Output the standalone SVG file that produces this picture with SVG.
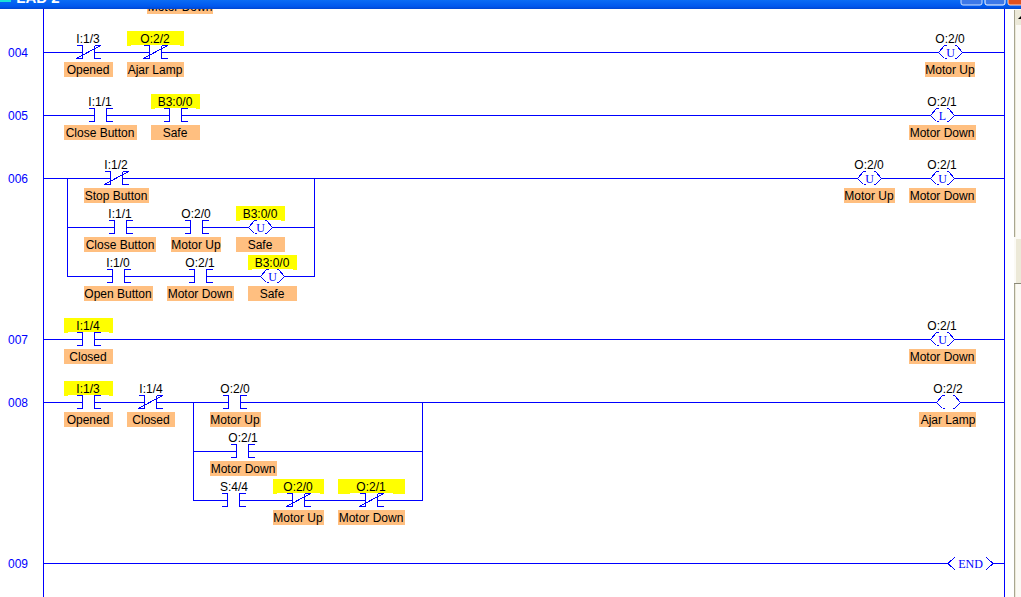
<svg xmlns="http://www.w3.org/2000/svg" width="1021" height="597" viewBox="0 0 1021 597">
<style>
text{font-family:"Liberation Sans",Arial,sans-serif;font-size:12px;fill:#000;text-anchor:middle}
.n{fill:#0000ff;text-anchor:start}
.c{font-family:"Liberation Serif","Times New Roman",serif;font-size:12px;fill:#0000ff}
.o{fill:#ffbf80}
.y{fill:#ffff00}
.w{fill:none;stroke:#0000ff;stroke-width:1;shape-rendering:crispEdges}
.g{fill:#fff}
</style>
<defs>
<linearGradient id="tb" x1="0" y1="0" x2="0" y2="1"><stop offset="0" stop-color="#0a6cf5"/><stop offset=".7" stop-color="#0058ee"/><stop offset="1" stop-color="#0046d0"/></linearGradient>
<g id="no" class="w"><path d="M-12-7H-6V6H-12M12-7H6V6H12"/></g>
<g id="nc" class="w"><path d="M-6-7V6M-12-7H-6M-12 6H-6M6-7V6M6-7H12M6 6H12M-12 6L12-7"/></g>
<g id="coil" class="w"><path d="M-6-7L-12 0L-6 6M6-7L12 0L6 6M-6-7H-4M-6 6H-4M6-7H4M6 6H4"/></g>
</defs>
<rect width="1021" height="597" fill="#fff"/>
<g id="chrome">
<rect x="147" y="0" width="66" height="14" class="o"/>
<text x="180" y="11">Motor Down</text>
<rect x="0" y="0" width="1021" height="9" fill="url(#tb)"/>
<rect x="0" y="0" width="11" height="2" fill="#19e0d8"/>
<text x="38" y="3" style="font-size:15px;font-weight:bold;fill:#fff">LAD 2</text>
<rect x="961" y="-3" width="21" height="8" rx="2" fill="#3c78e8" stroke="#cfe0ff"/>
<rect x="985" y="-3" width="20" height="8" rx="2" fill="#3c78e8" stroke="#fff"/>
<rect x="1008" y="-3" width="16" height="8" rx="2" fill="#e0501e" stroke="#ffd8c8"/>
<rect x="1014" y="9" width="7" height="588" fill="#fbfaf5"/>
<rect x="1014" y="10" width="1" height="587" fill="#a8a690"/>
<rect x="1015" y="10" width="1" height="587" fill="#ece9d8"/>
<rect x="1016" y="10" width="5" height="15" fill="#ece9d8"/>
<path d="M1018 19L1021 16V19Z" fill="#000"/>
<rect x="1014" y="237" width="7" height="46" fill="#fbfaf5"/>
<rect x="1016" y="239" width="5" height="44" fill="#ece9d8"/>
<rect x="1014" y="283" width="7" height="1" fill="#8a8878"/>
</g>
<g id="connectors" class="w">
<path d="M43.500 9V597M1004.500 9V597"/>
<path d="M43 52.500H1004M43 115.500H1004M43 178.500H1004M43 339.500H1004M43 402.500H1004M43 563.500H948M993 563.500H1004"/>
<path d="M67.500 178V276.500H314.500V178M67 227.500H314"/>
<path d="M193.500 402V500.500H422.500V402M193 451.500H422"/>
</g>
<g id="rung-labels">
<text class="n" x="8" y="57">004</text>
<text class="n" x="8" y="120">005</text>
<text class="n" x="8" y="183">006</text>
<text class="n" x="8" y="344">007</text>
<text class="n" x="8" y="407">008</text>
<text class="n" x="8" y="568">009</text>
</g>
<g id="n004a"><rect x="83" y="46" width="11" height="13" class="g"/><use href="#nc" x="88.500" y="52.500"/><text x="88" y="43">I:1/3</text><rect class="o" x="64" y="62" width="49" height="15"/><text x="88" y="74">Opened</text></g>
<g id="n004b"><rect x="150" y="46" width="11" height="13" class="g"/><path class="y" d="M127 31H184V46H180V45H131V46H127Z"/><use href="#nc" x="155.500" y="52.500"/><text x="155" y="43">O:2/2</text><rect class="o" x="127" y="62" width="57" height="15"/><text x="155" y="74">Ajar Lamp</text></g>
<g id="n004c"><rect x="939" y="46" width="23" height="13" class="g"/><use href="#coil" x="950.500" y="52.500"/><text class="c" x="950.500" y="57">U</text><text x="950" y="43">O:2/0</text><rect class="o" x="925" y="62" width="50" height="15"/><text x="950" y="74">Motor Up</text></g>
<g id="n005a"><rect x="95" y="108" width="11" height="14" class="g"/><use href="#no" x="100.500" y="115.500"/><text x="100" y="106">I:1/1</text><rect class="o" x="64" y="125" width="73" height="15"/><text x="100" y="137">Close Button</text></g>
<g id="n005b"><path class="y" d="M151 94H200V109H196V108H155V109H151Z"/><rect x="170" y="108" width="11" height="14" class="g"/><use href="#no" x="175.500" y="115.500"/><text x="175" y="106">B3:0/0</text><rect class="o" x="151" y="125" width="49" height="15"/><text x="175" y="137">Safe</text></g>
<g id="n005c"><rect x="931" y="109" width="23" height="13" class="g"/><use href="#coil" x="942.500" y="115.500"/><text class="c" x="942.500" y="120">L</text><text x="942" y="106">O:2/1</text><rect class="o" x="909" y="125" width="67" height="15"/><text x="942" y="137">Motor Down</text></g>
<g id="n006a"><rect x="111" y="172" width="11" height="13" class="g"/><use href="#nc" x="116.500" y="178.500"/><text x="116" y="169">I:1/2</text><rect class="o" x="84" y="188" width="65" height="15"/><text x="116" y="200">Stop Button</text></g>
<g id="n006b"><rect x="858" y="172" width="23" height="13" class="g"/><use href="#coil" x="869.500" y="178.500"/><text class="c" x="869.500" y="183">U</text><text x="869" y="169">O:2/0</text><rect class="o" x="844" y="188" width="51" height="15"/><text x="869" y="200">Motor Up</text></g>
<g id="n006c"><rect x="931" y="172" width="23" height="13" class="g"/><use href="#coil" x="942.500" y="178.500"/><text class="c" x="942.500" y="183">U</text><text x="942" y="169">O:2/1</text><rect class="o" x="909" y="188" width="67" height="15"/><text x="942" y="200">Motor Down</text></g>
<g id="n006d"><rect x="115" y="221" width="11" height="13" class="g"/><use href="#no" x="120.500" y="227.500"/><text x="120" y="218">I:1/1</text><rect class="o" x="84" y="237" width="72" height="15"/><text x="120" y="249">Close Button</text></g>
<g id="n006e"><rect x="191" y="221" width="11" height="13" class="g"/><use href="#no" x="196.500" y="227.500"/><text x="196" y="218">O:2/0</text><rect class="o" x="171" y="237" width="50" height="15"/><text x="196" y="249">Motor Up</text></g>
<g id="n006f"><path class="y" d="M236 206H285V221H281V220H240V221H236Z"/><rect x="249" y="221" width="23" height="13" class="g"/><use href="#coil" x="260.500" y="227.500"/><text class="c" x="260.500" y="232">U</text><text x="260" y="218">B3:0/0</text><rect class="o" x="236" y="237" width="49" height="15"/><text x="260" y="249">Safe</text></g>
<g id="n006g"><rect x="113" y="270" width="11" height="13" class="g"/><use href="#no" x="118.500" y="276.500"/><text x="118" y="267">I:1/0</text><rect class="o" x="84" y="286" width="69" height="15"/><text x="118" y="298">Open Button</text></g>
<g id="n006h"><rect x="195" y="270" width="11" height="13" class="g"/><use href="#no" x="200.500" y="276.500"/><text x="200" y="267">O:2/1</text><rect class="o" x="167" y="286" width="67" height="15"/><text x="200" y="298">Motor Down</text></g>
<g id="n006i"><path class="y" d="M248 255H297V270H293V269H252V270H248Z"/><rect x="261" y="270" width="23" height="13" class="g"/><use href="#coil" x="272.500" y="276.500"/><text class="c" x="272.500" y="281">U</text><text x="272" y="267">B3:0/0</text><rect class="o" x="248" y="286" width="49" height="15"/><text x="272" y="298">Safe</text></g>
<g id="n007a"><path class="y" d="M64 318H113V333H109V332H68V333H64Z"/><rect x="83" y="333" width="11" height="13" class="g"/><use href="#no" x="88.500" y="339.500"/><text x="88" y="330">I:1/4</text><rect class="o" x="64" y="349" width="49" height="15"/><text x="88" y="361">Closed</text></g>
<g id="n007b"><rect x="931" y="333" width="23" height="13" class="g"/><use href="#coil" x="942.500" y="339.500"/><text class="c" x="942.500" y="344">U</text><text x="942" y="330">O:2/1</text><rect class="o" x="909" y="349" width="67" height="15"/><text x="942" y="361">Motor Down</text></g>
<g id="n008a"><path class="y" d="M64 381H113V396H109V395H68V396H64Z"/><rect x="83" y="396" width="11" height="13" class="g"/><use href="#no" x="88.500" y="402.500"/><text x="88" y="393">I:1/3</text><rect class="o" x="64" y="412" width="49" height="15"/><text x="88" y="424">Opened</text></g>
<g id="n008b"><rect x="145" y="396" width="11" height="13" class="g"/><use href="#nc" x="150.500" y="402.500"/><text x="151" y="393">I:1/4</text><rect class="o" x="127" y="412" width="48" height="15"/><text x="151" y="424">Closed</text></g>
<g id="n008c"><rect x="229" y="396" width="11" height="13" class="g"/><use href="#no" x="234.500" y="402.500"/><text x="235" y="393">O:2/0</text><rect class="o" x="210" y="412" width="51" height="15"/><text x="235" y="424">Motor Up</text></g>
<g id="n008d"><rect x="237" y="445" width="11" height="13" class="g"/><use href="#no" x="242.500" y="451.500"/><text x="243" y="442">O:2/1</text><rect class="o" x="210" y="461" width="67" height="15"/><text x="243" y="473">Motor Down</text></g>
<g id="n008e"><rect x="228" y="494" width="11" height="13" class="g"/><use href="#no" x="233.500" y="500.500"/><text x="234" y="491">S:4/4</text></g>
<g id="n008f"><path class="y" d="M273 479H324V494H320V493H277V494H273Z"/><rect x="293" y="494" width="11" height="13" class="g"/><use href="#nc" x="298.500" y="500.500"/><text x="298" y="491">O:2/0</text><rect class="o" x="273" y="510" width="51" height="15"/><text x="298" y="522">Motor Up</text></g>
<g id="n008g"><path class="y" d="M338 479H405V494H393V493H350V494H338Z"/><rect x="366" y="494" width="11" height="13" class="g"/><use href="#nc" x="371.500" y="500.500"/><text x="371" y="491">O:2/1</text><rect class="o" x="338" y="510" width="67" height="15"/><text x="371" y="522">Motor Down</text></g>
<g id="n008h"><rect x="937" y="396" width="23" height="13" class="g"/><use href="#coil" x="948.500" y="402.500"/><text x="948" y="393">O:2/2</text><rect class="o" x="919" y="412" width="57" height="15"/><text x="948" y="424">Ajar Lamp</text></g>
<g id="n009"><path class="w" d="M955 557L948 563.500L955 570M986 557L993 563.500L986 570"/><text class="c" x="970.500" y="568">END</text></g>
</svg>
